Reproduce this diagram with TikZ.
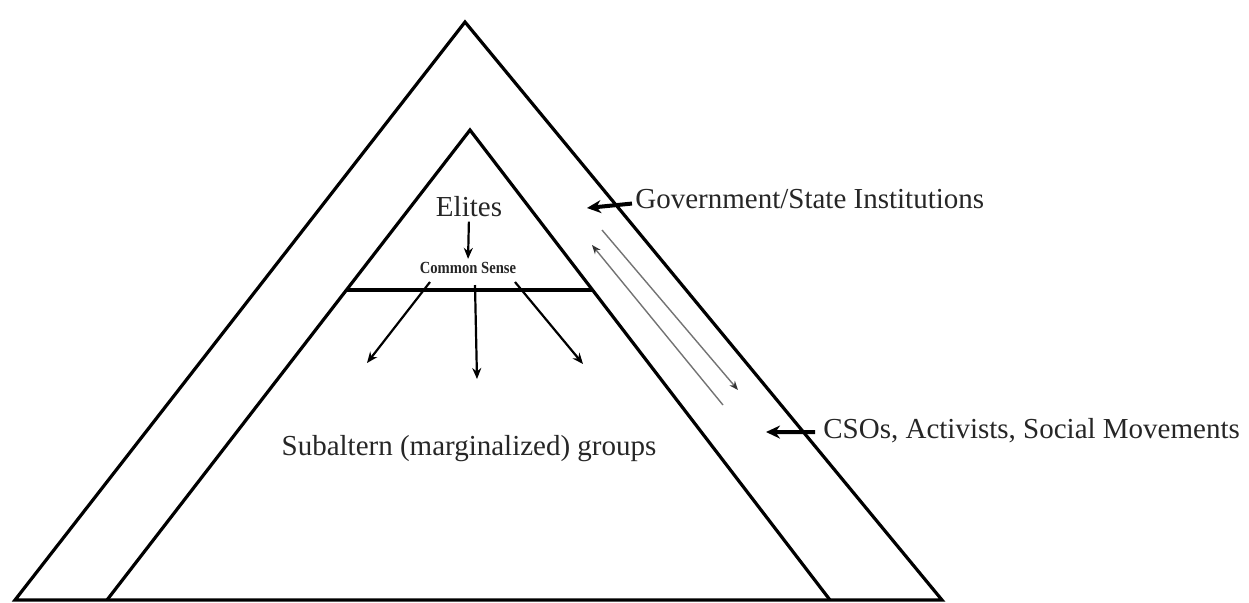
\documentclass[tikz,border=0pt]{standalone}
\usepackage{fontspec}
\setmainfont{Liberation Serif}
\usetikzlibrary{arrows.meta}
\begin{document}
\begin{tikzpicture}[x=0.5pt,y=-0.5pt,
  edge/.style={line width=1.6pt, line join=miter},
  lbl/.style={font=\fontsize{14.5}{17}\selectfont, inner sep=0pt, text=black!85},
  small/.style={font=\fontsize{8.5}{10}\selectfont\bfseries, inner sep=0pt, text=black!85},
  ptr/.style={line width=2pt, -{Stealth[length=7pt,width=6.5pt]}},
  flow/.style={line width=1.1pt, -{Stealth[length=5.5pt,width=4.5pt]}},
  grayflow/.style={line width=0.7pt, draw=black!55, -{Stealth[length=4.5pt,width=3.5pt,color=black!80,fill=black!80]}}]
\useasboundingbox (0,0) rectangle (1249,602);
% triangles
\coordinate (oL) at (15,600);
\coordinate (oT) at (465,22);
\coordinate (oR) at (942,600);
\coordinate (iL) at (107,600);
\coordinate (iT) at (470,130);
\coordinate (iR) at (830,600);
\draw[edge] (oL) -- (oT) -- (oR) -- cycle;
\draw[edge] (iL) -- (iT) -- (iR);
\coordinate (hL) at (346,290);
\coordinate (hR) at (592.5,290);
\draw[edge] (hL) -- (hR);
% labels
\node[lbl, anchor=base] (el) at (469,216) {Elites};
\node[small] (cs) at (468,268) {\scalebox{0.86}[1]{Common Sense}};
\node[lbl, anchor=base] (sub) at (469,455) {Subaltern (marginalized) groups};
\node[lbl, anchor=base west] (gov) at (635,208) {Government/State Institutions};
\node[lbl, anchor=base west] (cso) at (823,438) {CSOs, Activists, Social Movements};
% arrows inside
\draw[flow, shorten <=2.5pt, shorten >=1.5pt] (el.south) -- (cs.north);
\coordinate (c1) at (430,282);
\coordinate (c2) at (475,285);
\coordinate (c3) at (515,282);
\coordinate (d1) at (367,363);
\coordinate (d2) at (477,379);
\coordinate (d3) at (583,364);
\draw[flow] (c1) -- (d1);
\draw[flow] (c2) -- (d2);
\draw[flow] (c3) -- (d3);
% gray double arrows
\coordinate (g1s) at (723,405);
\coordinate (g1e) at (592,245);
\coordinate (g2s) at (602,230);
\coordinate (g2e) at (738,390);
\draw[grayflow] (g1s) -- (g1e);
\draw[grayflow] (g2s) -- (g2e);
% pointers
\coordinate (govtip) at (587,208);
\coordinate (csotip) at (766,432);
\draw[ptr] ([xshift=-1.5pt,yshift=-2.5pt]gov.west) -- (govtip);
\draw[ptr] ([xshift=-4pt,yshift=-1pt]cso.west) -- (csotip);
\end{tikzpicture}
\end{document}
